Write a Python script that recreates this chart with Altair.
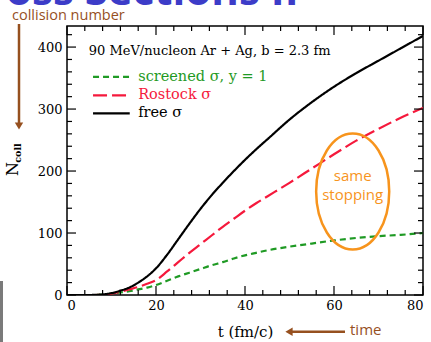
import altair as alt
import pandas as pd

# ---------------- data ----------------
t_vals = [0, 5, 8, 10, 12, 14, 16, 18, 20, 22.5, 25, 27.5, 30, 32.5, 35, 37.5, 40,
          42.5, 45, 50, 55, 60, 65, 70, 75, 80]
free_sigma = [0, 0, 1, 3, 7, 12, 20, 30, 43, 65, 90, 115, 139, 161, 181, 200, 218,
              235, 251, 283, 311, 336, 358, 378, 398, 418]
rostock_sigma = [0, 0, 0.5, 2, 5, 9, 13, 18, 24, 38, 53, 68, 82, 96, 110, 123, 136,
                 148, 159, 181, 204, 227, 249, 268, 286, 302]
screened_sigma = [0, 0, 0.5, 2, 4, 6, 9, 12, 16, 23, 30, 36, 42, 48, 53, 59, 64,
                  68, 72, 78, 83, 88, 92, 95, 97, 100]

series_names = ["screened", "Rostock", "free"]
series_labels = ["screened σ, y = 1", "Rostock σ", "free σ"]
series_colors = ["#1f9a24", "#f5193c", "#000000"]
series_dash = [[6, 4], [14, 5], [1, 0]]

x_major = [0, 20, 40, 60, 80]
x_minor = [v for v in range(0, 81, 4) if v % 20 != 0]
y_major = [0, 100, 200, 300, 400]
y_minor = [v for v in range(0, 434, 20) if v % 100 != 0]

rows = []
for name, vals in zip(series_names, [screened_sigma, rostock_sigma, free_sigma]):
    for t, v in zip(t_vals, vals):
        rows.append({"t": t, "N": v, "series": name})
df = pd.DataFrame(rows)

W, H = 356, 269
XDOM = [0, 80]
YDOM = [0, 434]
SERIF = "DejaVu Serif"
SANS = "Open Sans"
BROWN = "#96501f"
ORANGE = "#f7941d"

xs = alt.Scale(domain=XDOM, nice=False, zero=False)
ys = alt.Scale(domain=YDOM, nice=False, zero=False)
cscale = alt.Scale(domain=series_names, range=series_colors)
dscale = alt.Scale(domain=series_names, range=series_dash)

base = alt.Chart(df)

lines = base.mark_line(strokeWidth=2.2, interpolate="monotone", clip=True).encode(
    x=alt.X("t:Q", scale=xs,
            axis=alt.Axis(values=x_major, ticks=False, domain=False, grid=False,
                          labelFont=SERIF, labelFontSize=13, labelColor="black",
                          labelPadding=4, title="t (fm/c)", titleFont=SERIF,
                          titleFontSize=15, titleFontWeight="normal",
                          titleColor="black", titlePadding=12)),
    y=alt.Y("N:Q", scale=ys,
            axis=alt.Axis(values=y_major, ticks=False, domain=False, grid=False,
                          labelFont=SERIF, labelFontSize=13, labelColor="black",
                          labelPadding=5, title=None)),
    color=alt.Color("series:N", scale=cscale, legend=None),
    strokeDash=alt.StrokeDash("series:N", scale=dscale, legend=None),
)

# ---- inward ticks ----
def xticks(vals, length):
    d = pd.DataFrame({"t": vals})
    b = alt.Chart(d).mark_rule(color="black", strokeWidth=1.2)
    bottom = b.encode(x=alt.X("t:Q", scale=xs), y=alt.value(H), y2=alt.value(H - length))
    top = b.encode(x=alt.X("t:Q", scale=xs), y=alt.value(0), y2=alt.value(length))
    return [bottom, top]

def yticks(vals, length):
    d = pd.DataFrame({"N": vals})
    b = alt.Chart(d).mark_rule(color="black", strokeWidth=1.2)
    left = b.encode(y=alt.Y("N:Q", scale=ys), x=alt.value(0), x2=alt.value(length))
    right = b.encode(y=alt.Y("N:Q", scale=ys), x=alt.value(W), x2=alt.value(W - length))
    return [left, right]

tick_layers = xticks(x_major, 9) + xticks(x_minor, 5) + yticks(y_major, 9) + yticks(y_minor, 5)

# ---- in-plot legend ----
leg_N = [352, 322, 293]
leg_df = pd.DataFrame({"series": series_names, "label": series_labels, "N": leg_N,
                       "t1": [5.85] * 3, "t2": [14.1] * 3, "tl": [16.0] * 3})
leg_lines = alt.Chart(leg_df).mark_rule(strokeWidth=2.2).encode(
    x=alt.X("t1:Q", scale=xs), x2="t2:Q", y=alt.Y("N:Q", scale=ys),
    color=alt.Color("series:N", scale=cscale, legend=None),
    strokeDash=alt.StrokeDash("series:N", scale=dscale, legend=None),
)
leg_text = alt.Chart(leg_df).mark_text(align="left", baseline="middle", font=SERIF,
                                       fontSize=14.5).encode(
    x=alt.X("tl:Q", scale=xs), y=alt.Y("N:Q", scale=ys), text="label:N",
    color=alt.Color("series:N", scale=cscale, legend=None),
)
header = alt.Chart(pd.DataFrame({"a": [1]})).mark_text(
    align="left", baseline="middle", font=SERIF, fontSize=13, color="black",
    text="90 MeV/nucleon Ar + Ag, b = 2.3 fm").encode(
    x=alt.datum(4.9, scale=xs), y=alt.datum(394, scale=ys))

# ---- orange ellipse annotation ----
ellipse_path = "M0,-1 A0.63,1 0 1,1 0,1 A0.63,1 0 1,1 0,-1 Z"
ann = alt.Chart(pd.DataFrame({"a": [1]}))
ellipse = ann.mark_point(shape=ellipse_path, size=116 * 116, filled=False,
                         stroke=ORANGE, strokeWidth=2.5, opacity=1).encode(
    x=alt.datum(64.2, scale=xs), y=alt.datum(167, scale=ys))
same_t = ann.mark_text(font=SANS, fontSize=15, color=ORANGE, baseline="middle",
                       text="same").encode(x=alt.datum(64.2, scale=xs),
                                           y=alt.datum(192, scale=ys))
stop_t = ann.mark_text(font=SANS, fontSize=15, color=ORANGE, baseline="middle",
                       text="stopping").encode(x=alt.datum(64.2, scale=xs),
                                               y=alt.datum(161, scale=ys))

# ---- outside annotations (slide decorations) ----
coll_txt = ann.mark_text(font=SANS, fontSize=14.5, color=BROWN, align="left",
                         baseline="alphabetic", text="collision number").encode(
    x=alt.value(-55), y=alt.value(-6.5))
v_arrow = ann.mark_rule(color=BROWN, strokeWidth=2.5).encode(
    x=alt.value(-48), y=alt.value(-2), y2=alt.value(98))
v_head = ann.mark_point(shape="triangle-down", filled=True, color=BROWN, size=70,
                        opacity=1).encode(x=alt.value(-48), y=alt.value(100))
h_arrow = ann.mark_rule(color=BROWN, strokeWidth=2.5).encode(
    y=alt.value(305.7), x=alt.value(224), x2=alt.value(278))
h_head = ann.mark_point(shape="triangle-left", filled=True, color=BROWN, size=70,
                        opacity=1).encode(x=alt.value(222), y=alt.value(305.7))
time_txt = ann.mark_text(font=SANS, fontSize=15, color=BROWN, align="left",
                         baseline="middle", text="time").encode(
    x=alt.value(283), y=alt.value(304))
n_txt = ann.mark_text(font=SERIF, fontSize=16, color="black", angle=270,
                      baseline="middle", text="N").encode(
    x=alt.value(-54.5), y=alt.value(143))
coll_sub = ann.mark_text(font=SERIF, fontSize=9.5, fontWeight="bold", color="black",
                         angle=270, baseline="middle", text="coll").encode(
    x=alt.value(-49), y=alt.value(127))
blue_title = ann.mark_text(font=SANS, fontSize=42, fontWeight="bold", color="#3c3cc8",
                           align="left", baseline="alphabetic",
                           text="ross Sections II").encode(
    x=alt.value(-80), y=alt.value(-21))
gray_bar = ann.mark_rule(color="#7a7a7a", strokeWidth=3).encode(
    x=alt.value(-65.5), y=alt.value(255), y2=alt.value(320))

chart = alt.layer(
    lines, *tick_layers, leg_lines, leg_text, header, ellipse, same_t, stop_t,
    coll_txt, v_arrow, v_head, h_arrow, h_head, time_txt, n_txt, coll_sub,
    blue_title, gray_bar,
).properties(
    width=W, height=H,
    autosize=alt.AutoSizeParams(type="none"),
    padding={"left": 67, "top": 26, "right": 8, "bottom": 47},
    background="white",
).configure_view(stroke="black", strokeWidth=1.5)

chart.save("out.html", embed_options={"renderer": "svg", "actions": False})
